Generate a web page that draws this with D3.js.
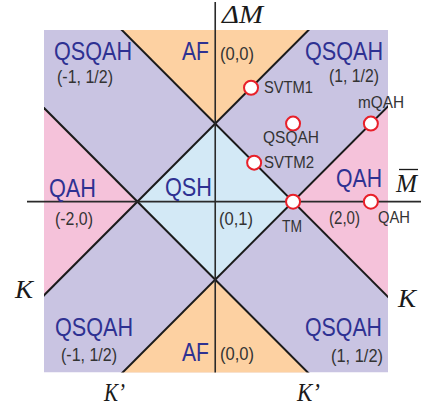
<!DOCTYPE html>
<html>
<head>
<meta charset="utf-8">
<script src="https://cdn.jsdelivr.net/npm/d3@7"></script>
<style>
  html, body { margin: 0; padding: 0; background: #fff; }
  svg { display: block; }
</style>
</head>
<body>
<div id="chart"></div>
<script>
// ---------------- data ----------------
const boundary = 1;                              // phase boundaries: |ΔM| ± M̄ = 1
const xExtent = [-2.2, 2.22];                    // M̄ range shown
const yExtent = [-2.19, 2.2];                    // ΔM range shown
const phaseNames = ["QSQAH", "AF", "QAH", "QSH"];
const phaseColors = ["#c9c4e2", "#fdd1a2", "#f5c2da", "#d3e9f6"];
const regionNames   = ["QSQAH", "AF", "QSQAH", "QAH", "QSH", "QAH", "QSQAH", "AF", "QSQAH"];
const regionIndices = ["(-1, 1/2)", "(0,0)", "(1, 1/2)", "(-2,0)", "(0,1)", "(2,0)", "(-1, 1/2)", "(0,0)", "(1, 1/2)"];
const pointNames = ["SVTM1", "QSQAH", "mQAH", "SVTM2", "TM", "QAH"];
const pointX = [0.46, 1, 2, 0.5, 1, 2];
const pointY = [1.46, 1, 1, 0.5, 0, 0];

// ---------------- layout ----------------
const W = 425, H = 410;
const x = d3.scaleLinear().domain(xExtent).range([44, 388]);
const y = d3.scaleLinear().domain(yExtent).range([372.5, 30]);

const svg = d3.select("#chart").append("svg").attr("width", W).attr("height", H);

svg.append("defs").append("clipPath").attr("id", "sq")
  .append("rect")
  .attr("x", x(xExtent[0])).attr("y", y(yExtent[1]))
  .attr("width", x(xExtent[1]) - x(xExtent[0]))
  .attr("height", y(yExtent[0]) - y(yExtent[1]));

const g = svg.append("g").attr("clip-path", "url(#sq)");
const L = 6, b = boundary;
const color = p => phaseColors[phaseNames.indexOf(p)];

// background = QSQAH
g.append("rect")
  .attr("x", x(xExtent[0])).attr("y", y(yExtent[1]))
  .attr("width", x(xExtent[1]) - x(xExtent[0]))
  .attr("height", y(yExtent[0]) - y(yExtent[1]))
  .attr("fill", color("QSQAH"));

const polys = [
  { phase: "AF",  pts: [[0, b], [L, L + b], [-L, L + b]] },
  { phase: "AF",  pts: [[0, -b], [L, -L - b], [-L, -L - b]] },
  { phase: "QAH", pts: [[b, 0], [L + b, L], [L + b, -L]] },
  { phase: "QAH", pts: [[-b, 0], [-L - b, L], [-L - b, -L]] },
  { phase: "QSH", pts: [[b, 0], [0, b], [-b, 0], [0, -b]] }
];
g.selectAll("path.region").data(polys).join("path")
  .attr("class", "region")
  .attr("d", d => "M" + d.pts.map(p => [x(p[0]), y(p[1])].join(",")).join("L") + "Z")
  .attr("fill", d => color(d.phase));

// boundary lines: x+y=±b, x-y=±b
const lines = [
  [[-L, L + b], [L, -L + b]],
  [[-L, L - b], [L, -L - b]],
  [[-L, -L + b], [L, L + b]],
  [[-L, -L - b], [L, L - b]]
];
g.selectAll("line.bd").data(lines).join("line")
  .attr("class", "bd")
  .attr("x1", d => x(d[0][0])).attr("y1", d => y(d[0][1]))
  .attr("x2", d => x(d[1][0])).attr("y2", d => y(d[1][1]))
  .attr("stroke", "#1a1a1a").attr("stroke-width", 2);

// axes
svg.append("line")
  .attr("x1", 27).attr("x2", 421).attr("y1", y(0)).attr("y2", y(0))
  .attr("stroke", "#2a2a2a").attr("stroke-width", 1.6);
svg.append("line")
  .attr("x1", x(0)).attr("x2", x(0)).attr("y1", 2).attr("y2", y(yExtent[0]))
  .attr("stroke", "#2a2a2a").attr("stroke-width", 1.6);

// points
svg.selectAll("circle.pt").data(pointNames).join("circle")
  .attr("class", "pt")
  .attr("cx", (d, i) => x(pointX[i])).attr("cy", (d, i) => y(pointY[i]))
  .attr("r", 7)
  .attr("fill", "#fff").attr("stroke", "#e8202a").attr("stroke-width", 2);

// text helper
function txt(s, px, py, size, fill, len, opts = {}) {
  const t = svg.append("text")
    .attr("x", px).attr("y", py)
    .attr("font-family", opts.family || "'Liberation Sans', Arial, sans-serif")
    .attr("font-size", size)
    .attr("fill", fill)
    .text(s);
  if (opts.italic) t.attr("font-style", "italic");
  if (len) t.attr("textLength", len).attr("lengthAdjust", "spacingAndGlyphs");
  return t;
}

const blue = "#2e3192", gray = "#333333";
// region labels: [name pos x, y, len] [index pos x, y, len]
const regionLayout = [
  [54, 60, 78, 57, 83, 56],
  [182, 60, 27, 220, 60, 34],
  [305, 60, 78, 329, 82, 50],
  [49, 196.5, 47, 55, 225, 38],
  [165, 195.5, 47, 219, 225, 34],
  [336, 186.5, 46, 329, 223.5, 31],
  [55, 336, 78, 61, 361, 56],
  [182, 361, 27, 220, 359.5, 34],
  [305, 336, 77, 331, 361.5, 52]
];
regionNames.forEach((n, i) => {
  const l = regionLayout[i];
  txt(n, l[0], l[1], 25, blue, l[2]);
  txt(regionIndices[i], l[3], l[4], 18, gray, l[5]);
});

// point labels
const pointLayout = [
  [264, 93.3, 49], [263, 143.3, 56], [358, 108.3, 46],
  [264, 168.3, 50], [282, 231.7, 20], [378, 223.3, 32]
];
pointNames.forEach((n, i) => {
  const l = pointLayout[i];
  txt(n, l[0], l[1], 16, gray, l[2]);
});

// axis labels
const serif = { family: "'Liberation Serif', 'Times New Roman', serif", italic: true };
txt("ΔM", 222, 22.7, 25, "#1a1a1a", 41, serif);
txt("M", 396, 191.7, 25, "#1a1a1a", 21, serif);
svg.append("line").attr("x1", 399).attr("x2", 418).attr("y1", 169.5).attr("y2", 169.5)
  .attr("stroke", "#1a1a1a").attr("stroke-width", 1.3);
txt("K", 15, 298, 25, "#1a1a1a", 18, serif);
txt("K", 398, 307.3, 25, "#1a1a1a", 18, serif);
txt("K’", 104, 400.7, 25, "#1a1a1a", 21, serif);
txt("K’", 297, 400.7, 25, "#1a1a1a", 23, serif);
</script>
</body>
</html>
